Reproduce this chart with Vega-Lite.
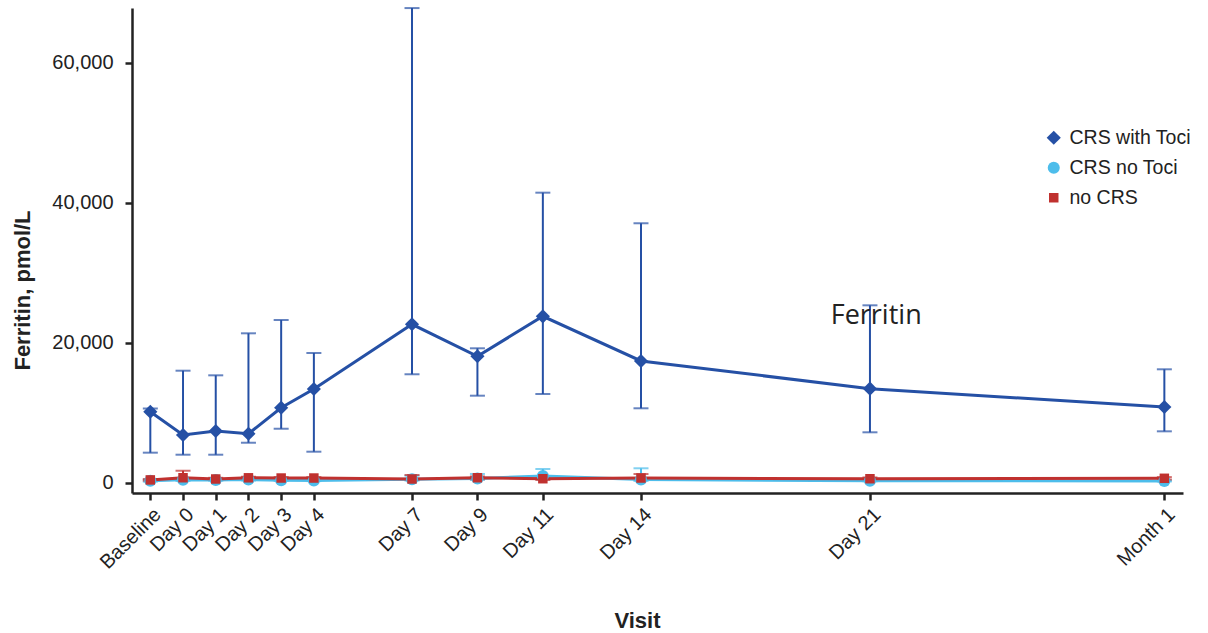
{
  "$schema": "https://vega.github.io/schema/vega-lite/v6.json",
  "autosize": {"type": "none"},
  "width": 1051,
  "height": 485,
  "padding": {"left": 132, "top": 8, "right": 25, "bottom": 140},
  "background": "white",
  "config": {
    "view": {"stroke": null},
    "font": "Liberation Sans",
    "axis": {"grid": false, "domainColor": "#222222", "tickColor": "#222222", "labelColor": "#222222", "titleColor": "#222222", "tickWidth": 2.5, "domainWidth": 2.5, "tickSize": 7},
    "axisY": {
      "titleFontSize": 22,
      "titleFontWeight": "bold",
      "titleX": -110,
      "titleY": 282,
      "titleAngle": -90,
      "titleAlign": "center",
      "titleBaseline": "middle",
      "tickCount": 4,
      "labelExpr": "format(datum.value, ',')",
      "labelFontSize": 20,
      "labelPadding": 12
    }
  },
  "datasets": {
    "ferritin": [
      {"group": "CRS with Toci", "day": -1, "mean": 10140, "lo": 4290, "hi": 10600},
      {"group": "CRS with Toci", "day": 0, "mean": 6810, "lo": 4000, "hi": 16000},
      {"group": "CRS with Toci", "day": 1, "mean": 7390, "lo": 4000, "hi": 15340},
      {"group": "CRS with Toci", "day": 2, "mean": 7000, "lo": 5710, "hi": 21340},
      {"group": "CRS with Toci", "day": 3, "mean": 10710, "lo": 7710, "hi": 23240},
      {"group": "CRS with Toci", "day": 4, "mean": 13390, "lo": 4430, "hi": 18530},
      {"group": "CRS with Toci", "day": 7, "mean": 22630, "lo": 15490, "hi": 67800},
      {"group": "CRS with Toci", "day": 9, "mean": 18060, "lo": 12430, "hi": 19200},
      {"group": "CRS with Toci", "day": 11, "mean": 23770, "lo": 12670, "hi": 41430},
      {"group": "CRS with Toci", "day": 14, "mean": 17390, "lo": 10630, "hi": 37060},
      {"group": "CRS with Toci", "day": 21, "mean": 13430, "lo": 7200, "hi": 25340},
      {"group": "CRS with Toci", "day": 30, "mean": 10810, "lo": 7340, "hi": 16200},
      {"group": "CRS no Toci", "day": -1, "mean": 290, "lo": 150, "hi": 450},
      {"group": "CRS no Toci", "day": 0, "mean": 430, "lo": 250, "hi": 650},
      {"group": "CRS no Toci", "day": 1, "mean": 400, "lo": 280, "hi": 520},
      {"group": "CRS no Toci", "day": 2, "mean": 450, "lo": 330, "hi": 600},
      {"group": "CRS no Toci", "day": 3, "mean": 350, "lo": 250, "hi": 500},
      {"group": "CRS no Toci", "day": 4, "mean": 330, "lo": 230, "hi": 450},
      {"group": "CRS no Toci", "day": 7, "mean": 500, "lo": 300, "hi": 1000},
      {"group": "CRS no Toci", "day": 9, "mean": 600, "lo": 400, "hi": 1250},
      {"group": "CRS no Toci", "day": 11, "mean": 960, "lo": 500, "hi": 1960},
      {"group": "CRS no Toci", "day": 14, "mean": 450, "lo": 250, "hi": 2060},
      {"group": "CRS no Toci", "day": 21, "mean": 290, "lo": 200, "hi": 400},
      {"group": "CRS no Toci", "day": 30, "mean": 240, "lo": 180, "hi": 320},
      {"group": "no CRS", "day": -1, "mean": 400, "lo": 300, "hi": 520},
      {"group": "no CRS", "day": 0, "mean": 710, "lo": 450, "hi": 1710},
      {"group": "no CRS", "day": 1, "mean": 530, "lo": 400, "hi": 700},
      {"group": "no CRS", "day": 2, "mean": 700, "lo": 500, "hi": 850},
      {"group": "no CRS", "day": 3, "mean": 670, "lo": 500, "hi": 800},
      {"group": "no CRS", "day": 4, "mean": 670, "lo": 500, "hi": 800},
      {"group": "no CRS", "day": 7, "mean": 530, "lo": 400, "hi": 1100},
      {"group": "no CRS", "day": 9, "mean": 710, "lo": 500, "hi": 900},
      {"group": "no CRS", "day": 11, "mean": 570, "lo": 400, "hi": 750},
      {"group": "no CRS", "day": 14, "mean": 670, "lo": 450, "hi": 1240},
      {"group": "no CRS", "day": 21, "mean": 570, "lo": 400, "hi": 750},
      {"group": "no CRS", "day": 30, "mean": 630, "lo": 450, "hi": 800}
    ],
    "note": [
      {"label": "Ferritin", "day": 19.8, "mean": 23800}
    ]
  },
  "data": {"name": "ferritin"},
  "encoding": {
    "x": {
      "field": "day",
      "type": "quantitative",
      "scale": {"domain": [-1.56, 30.57], "nice": false, "zero": false},
      "axis": {
        "title": "Visit",
        "titleFontSize": 22,
        "titleFontWeight": "bold",
        "titleX": 505,
        "titleY": 127,
        "titleBaseline": "middle",
        "values": [-1, 0, 1, 2, 3, 4, 7, 9, 11, 14, 21, 30],
        "labelExpr": "datum.value == -1 ? 'Baseline' : datum.value == 30 ? 'Month 1' : 'Day ' + datum.value",
        "labelAngle": -45,
        "labelAlign": "right",
        "labelBaseline": "top",
        "labelFontSize": 20,
        "labelPadding": 4,
        "labelOverlap": false
      }
    },
    "color": {
      "field": "group",
      "type": "nominal",
      "scale": {"domain": ["CRS with Toci", "CRS no Toci", "no CRS"], "range": ["#2550A5", "#4DBDEB", "#C0312F"]},
      "legend": {
        "title": null,
        "orient": "none",
        "legendX": 912,
        "legendY": 120,
        "labelFontSize": 19.5,
        "labelColor": "#222222",
        "symbolSize": 280,
        "symbolOpacity": 1,
        "rowPadding": 9,
        "labelOffset": 6,
        "symbolStrokeWidth": 0,
        "encode": {"symbols": {"update": {"size": {"value": 250}}}}
      }
    }
  },
  "layer": [
    {
      "mark": {"type": "rule", "strokeWidth": 2},
      "encoding": {
        "y": {
          "field": "lo",
          "type": "quantitative",
          "title": "Ferritin, pmol/L",
          "scale": {"domain": [-1470, 67810], "nice": false, "zero": false}
        },
        "y2": {"field": "hi"}
      }
    },
    {
      "mark": {"type": "tick", "orient": "horizontal", "size": 15, "thickness": 2},
      "encoding": {
        "y": {"field": "hi", "type": "quantitative", "title": "Ferritin, pmol/L"}
      }
    },
    {
      "mark": {"type": "tick", "orient": "horizontal", "size": 15, "thickness": 2},
      "encoding": {
        "y": {"field": "lo", "type": "quantitative", "title": "Ferritin, pmol/L"}
      }
    },
    {
      "mark": {"type": "line", "strokeWidth": 3},
      "encoding": {
        "y": {"field": "mean", "type": "quantitative", "title": "Ferritin, pmol/L"},
        "order": {"field": "day"}
      }
    },
    {
      "mark": {"type": "point", "filled": true, "opacity": 1},
      "encoding": {
        "y": {"field": "mean", "type": "quantitative", "title": "Ferritin, pmol/L"},
        "shape": {
          "field": "group",
          "type": "nominal",
          "scale": {"domain": ["CRS with Toci", "CRS no Toci", "no CRS"], "range": ["diamond", "circle", "square"]},
          "legend": {"title": null}
        },
        "size": {
          "field": "group",
          "type": "nominal",
          "scale": {"domain": ["CRS with Toci", "CRS no Toci", "no CRS"], "range": [200, 90, 120]},
          "legend": null
        }
      }
    },
    {
      "data": {"name": "note"},
      "mark": {"type": "text", "font": "Open Sans", "fontSize": 27, "align": "left", "baseline": "middle", "color": "#222222"},
      "encoding": {
        "text": {"field": "label"},
        "y": {"field": "mean", "type": "quantitative", "title": "Ferritin, pmol/L"},
        "color": {"value": "#222222"}
      }
    }
  ]
}
